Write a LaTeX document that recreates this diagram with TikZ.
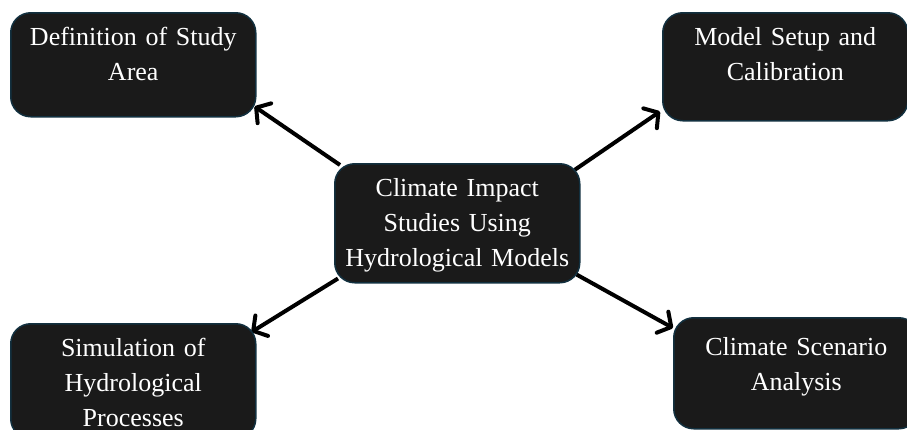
\documentclass[tikz,border=0pt]{standalone}
\usepackage{fontspec}
\setmainfont[WordSpace=0.8]{Liberation Serif}
\usepackage{tikz}
\usetikzlibrary{arrows.meta, calc, backgrounds}

\definecolor{boxfill}{HTML}{1A1A1A}
\definecolor{boxedge}{HTML}{12303F}

\tikzset{
  topic/.style={draw=boxedge, line width=1.5pt, fill=boxfill, rounded corners=20pt,
    text=white, font=\fontsize{26}{35}\selectfont, align=center,
    text width=235pt, inner xsep=5pt, inner ysep=15pt, text height=18pt, anchor=north west},
  link/.style={-{Straight Barb[length=10pt, width=24pt, round]}, line width=4pt, black}
}

\begin{document}
\begin{tikzpicture}[x=1pt, y=-1pt]
  \useasboundingbox (0,0) rectangle (907,429);
  \clip (0,0) rectangle (907,429);

  % boxes
  \node[topic, text depth=71pt] (impact) at (334,163) {Climate Impact\\Studies Using\\Hydrological Models};
  \node[topic, text depth=56pt] (area) at (10,12) {Definition of Study\\Area};
  \node[topic, text depth=60pt] (setup) at (662,12) {Model Setup and\\Calibration};
  \node[topic, text depth=67pt] (simul) at (10,323) {Simulation of\\Hydrological\\Processes};
  \node[topic, text height=23pt, text depth=58pt] (scen) at (673,317) {Climate Scenario\\Analysis};

  % arrows
  \begin{scope}[on background layer]
    \draw[link] ($(impact.north west)+(6,2)$) -- ($(area.south east)+(-2,-11)$);
    \draw[link] ($(impact.north east)+(-6,7)$) -- ($(setup.south west)+(-2,-10)$);
    \draw[link] ($(impact.south west)+(4,-5)$) -- ($(simul.north east)+(-5,9)$);
    \draw[link] ($(impact.south east)+(-4,-9)$) -- ($(scen.north west)+(0,11)$);
  \end{scope}
\end{tikzpicture}
\end{document}
